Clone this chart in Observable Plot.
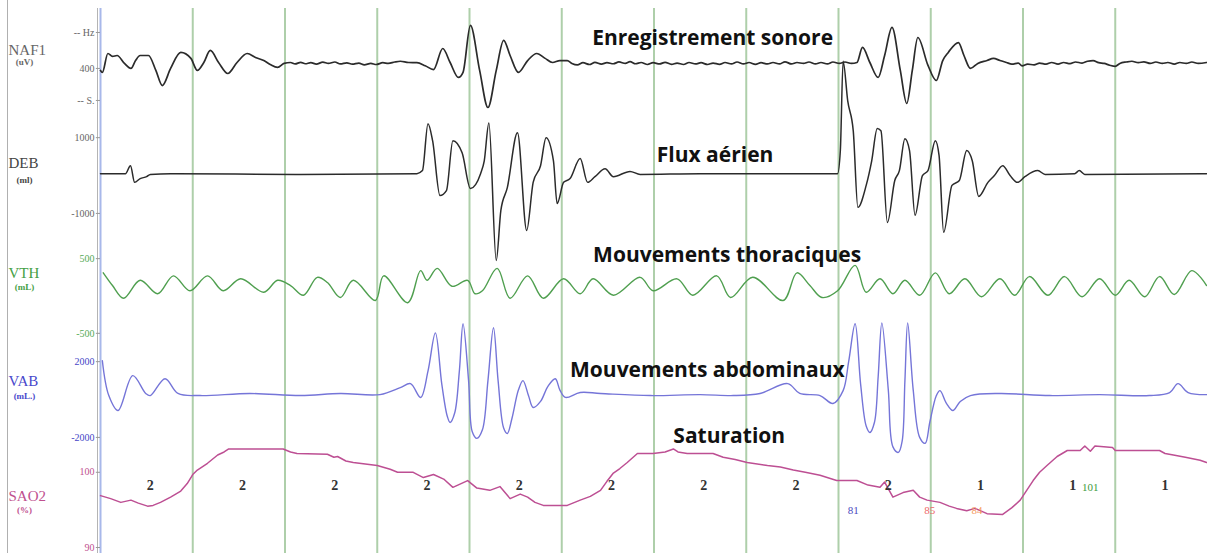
<!DOCTYPE html>
<html><head><meta charset="utf-8">
<script src="https://cdn.jsdelivr.net/npm/d3@7"></script>
<script src="https://cdn.jsdelivr.net/npm/@observablehq/plot@0.6"></script>
<style>
html,body{margin:0;padding:0;background:#fff;}
#wrap{position:relative;width:1207px;height:553px;overflow:hidden;}
#frameL{position:absolute;left:7px;top:0;width:1px;height:553px;background:#b0b0b0;}
svg{overflow:visible;}
</style></head><body><div id="wrap"><div id="frameL"></div></div>
<script>
// ---- data: [time (s), value] ----
const naf1 = [[0,389],[0.2,378],[0.8,483],[1.3,467],[1.8,472],[2.6,428],[3.3,400],[3.8,444],[4.3,472],[5.2,472],[6.0,389],[6.7,305],[7.6,400],[8.7,489],[9.8,456],[10.5,389],[11.2,433],[11.9,500],[12.8,433],[13.8,372],[14.8,433],[15.9,483],[16.8,461],[17.7,444],[18.4,422],[19.2,406],[19.9,428],[20.6,433],
[21.1,425],[21.7,434],[22.2,426],[22.8,432],[23.4,424],[24.1,435],[24.7,428],[25.4,436],[26.0,425],[26.7,431],[27.3,424],[28.0,430],[28.6,420],[29.3,428],[29.9,422],[30.6,432],[31.2,428],[31.9,436],[32.5,440],[33.4,433],[34.3,432],[35.2,415],[36.1,394],[37.1,511],[37.9,433],[38.8,350],[39.3,378],[40.1,639],[41.1,389],[42.0,183],[42.9,389],[43.7,556],[44.4,472],[45.3,378],[46.3,444],[47.3,483],[48.2,456],[49.0,433],[49.8,444],[50.6,444],[51.1,428],[51.7,420],
[52.3,432],[53.0,422],[53.6,434],[54.3,424],[54.9,432],[55.6,426],[56.2,436],[56.9,428],[57.4,438],[58.0,426],[58.6,433],[59.3,422],[59.9,432],[60.6,425],[61.2,434],[61.9,423],[62.5,430],[63.2,422],[63.8,433],[64.5,425],[65.1,432],[65.8,422],[66.4,430],[67.1,423],[67.7,433],[68.4,425],[69.0,436],[69.7,425],[70.3,433],[71.0,423],[71.6,432],[72.3,425],[72.9,433],[73.6,425],[74.2,437],[74.9,425],[75.5,433],[76.2,428],[76.8,436],[77.5,425],[78.1,433],[78.8,425],[79.4,436],[80.1,428],[80.7,436],[81.4,428],[82.0,433],
[82.6,517],[83.4,433],[84.3,350],[85.0,472],[85.8,628],[86.7,389],[87.4,205],[88.0,389],[88.6,572],[89.7,417],[90.6,333],[91.3,444],[91.9,489],[93.0,544],[93.6,472],[94.3,400],[95.1,428],[96.1,444],[96.8,456],[97.5,444],
[98.2,433],[98.8,424],[99.5,430],[99.9,414],[100.5,424],[101.2,420],[101.8,430],[102.5,424],[103.1,433],[103.8,424],[104.4,433],[105.1,427],[105.7,436],[106.4,430],[107.0,440],[107.6,444],[108.2,432],[108.8,428],[109.4,418],[110.0,412],[110.5,428],[111.2,436],[111.8,440],[112.5,432],[113.1,437],[113.8,428],[114.4,436],[115.1,428],[115.7,433],[116.4,424],[117.0,433],[117.7,428],[118.3,436],[119.0,428],[119.9,433]];

const deb = [[0,50],[2.7,50],[3.25,260],[3.7,-180],[4.3,-80],[5.0,-30],[5.4,30],[7.6,50],[21.7,30],[34.3,50],[34.9,130],[35.5,1370],[36.0,920],[36.8,-530],[37.5,-400],[38.2,920],[39.2,600],[40.1,-340],[41.2,50],[41.6,390],[42.1,1390],[42.9,-2240],[43.4,-920],[44.1,-320],[45.2,1130],[46.2,-1450],[46.9,-180],[47.7,260],[48.3,1000],[49.1,390],[49.5,-740],[50.2,-180],[50.9,-80],[52.0,450],[52.8,-180],[53.6,-30],[54.7,180],[55.6,-30],[57.4,110],[58.5,30],[65.0,50],[79.9,50],[80.2,660],[80.5,3020],[81.0,1970],[81.6,1180],[82.1,-840],[83.0,-260],[83.6,390],[84.2,1240],[84.6,1180],[85.3,-1240],[86.1,-130],[86.6,130],[87.2,970],[87.7,660],[88.3,-1050],[89.1,0],[89.7,130],[90.5,920],[90.9,530],[91.4,-1500],[92.3,-260],[93.1,-130],[93.9,660],[94.5,390],[95.2,-550],[96.2,-180],[96.9,0],[97.8,260],[98.6,0],[99.4,-180],[100.2,-30],[101.6,130],[102.4,30],[105.6,50],[106.1,130],[106.7,30],[119.9,50]];

const vth = [[0.3,310],[1.3,140],[2.5,-30],[4.3,210],[6.2,30],[7.9,270],[9.7,70],[11.6,270],[13.3,70],[15.2,230],[17.7,50],[19.2,210],[20.6,140],[22.0,10],[23.5,250],[24.6,180],[26.0,-20],[27.4,210],[29.8,-60],[30.7,270],[33.3,-90],[34.7,340],[35.4,210],[36.5,370],[38.1,130],[39.8,210],[40.6,30],[41.4,70],[43.0,370],[44.4,-30],[46.3,270],[48.0,-30],[50.2,230],[52.0,30],[53.4,230],[55.6,10],[58.5,250],[59.9,70],[62.5,230],[64.2,10],[66.8,270],[68.3,-20],[70.7,250],[74.0,-60],[75.5,310],[76.9,140],[78.2,-20],[79.9,70],[81.8,410],[83.0,50],[84.5,230],[85.9,30],[87.2,210],[88.8,10],[90.5,310],[92.0,30],[93.7,230],[95.5,-10],[97.5,230],[99.1,10],[100.7,260],[102.7,10],[104.5,260],[106.4,-10],[108.3,230],[110.0,10],[111.5,210],[113.2,-10],[114.8,260],[116.4,20],[118.3,340],[119.9,140]];

const vab = [[0.2,2050],[0.9,210],[1.9,-580],[3.5,1260],[4.9,320],[5.4,210],[7.0,1100],[8.4,320],[10.8,210],[16.2,320],[21.7,210],[26.0,320],[30.3,260],[32.5,630],[33.6,840],[34.7,110],
[35.5,1500],[36.3,3520],[37.0,800],[37.6,-900],[37.9,-1210],[38.4,-700],[38.9,1500],[39.3,4000],[39.9,1000],[40.3,-1700],[40.8,-2050],[41.4,-1600],[42.0,1000],[42.6,3790],[43.1,1000],[43.7,-1500],[44.1,-1790],[44.6,-1000],[45.3,500],[45.8,1000],[46.4,200],[46.9,-420],[47.7,-100],[48.5,700],[49.3,1100],[49.8,500],[50.4,110],
[52.0,370],[54.2,320],[59.6,210],[65.0,260],[68.6,210],[71.5,320],[74.5,840],[75.8,320],[78.0,210],[79.4,-210],[80.5,470],
[81.1,2000],[81.8,4000],[82.4,800],[83.0,-1400],[83.4,-1740],[83.9,-1200],[84.3,1200],[84.7,4050],[85.4,500],[85.9,-2500],[86.5,-2790],[86.9,-2200],[87.2,1000],[87.5,4050],[88.1,500],[88.8,-2000],[89.4,-2310],[89.9,-1200],[90.6,200],[91.0,470],[91.7,-200],[92.4,-580],[93.2,-100],[94.3,210],
[97.5,320],[102.9,210],[108.3,260],[113.7,210],[115.9,370],[116.8,840],[117.9,370],[119.9,260]];

const sao2 = [[0.0,96.9],[1.1,96.5],[2.2,96.0],[3.3,96.3],[4.1,95.9],[5.1,95.5],[5.7,95.6],[6.5,96.0],[7.6,96.7],[8.7,97.5],[9.4,98.5],[10.0,99.7],[10.5,100.3],[11.6,101.2],[12.7,102.3],[13.4,102.7],[13.9,103.1],[19.8,103.1],[20.6,102.7],[21.3,102.5],[24.6,102.4],[25.3,102.0],[25.7,102.1],[26.6,101.5],[27.4,101.3],[30.0,100.9],[31.4,100.4],[32.2,100.0],[33.9,100.0],[35.0,99.3],[36.1,99.7],[37.2,99.1],[38.2,98.0],[39.8,98.9],[40.8,97.9],[42.2,97.6],[43.3,98.1],[44.4,96.5],[45.5,97.1],[46.3,96.7],[47.1,96.0],[48.0,95.6],[50.6,95.6],[52.0,96.3],[53.1,96.8],[54.2,97.6],[54.9,98.8],[55.6,99.9],[56.3,100.5],[57.1,101.3],[58.2,102.5],[59.9,102.5],[61.2,102.7],[62.1,103.1],[62.6,102.7],[63.6,102.5],[66.4,102.5],[67.5,102.0],[68.8,101.7],[70.1,101.3],[72.3,100.9],[73.7,100.7],[75.1,100.3],[76.4,100.0],[78.0,99.6],[79.8,98.9],[82.0,98.9],[83.2,98.3],[84.5,98.0],[85.0,98.7],[85.9,96.7],[87.0,97.3],[88.1,97.6],[88.8,96.7],[89.6,96.3],[91.0,96.0],[92.0,95.5],[92.8,95.2],[93.9,94.9],[94.8,95.2],[96.1,94.5],[97.8,94.4],[98.8,95.3],[99.7,96.3],[100.4,97.6],[101.1,98.9],[101.8,100.0],[102.6,100.9],[103.7,102.1],[104.8,102.9],[106.2,102.9],[106.7,103.5],[107.3,102.8],[107.8,103.5],[109.7,103.3],[110.0,102.9],[114.8,102.9],[115.4,102.5],[116.3,102.3],[117.6,102.0],[119.2,101.6],[119.9,101.3]];

// sleep stage per 10-s epoch
const stages = ["2","2","2","2","2","2","2","2","2","1","1","1"];
const epochSeconds = 10;

// desaturation event annotations
const eventTimes = [81.6, 89.9, 95.0, 107.3];
const eventLevels = [94.9, 94.9, 94.9, 98.0];
const eventLabels = ["81", "85", "84", "101"];

// channel tick labels
const tickChannels = ["NAF1","NAF1","NAF1","DEB","DEB","VTH","VTH","VAB","VAB","SAO2","SAO2"];
const tickValues   = [600, 400, 222, 1000, -1000, 500, -500, 2000, -2000, 100, 90];
const tickLabels   = ["-- Hz","400","-- S.","1000","-1000","500","-500","2000","-2000","100","90"];

const channelNames = ["NAF1","DEB","VTH","VAB","SAO2"];
const channelUnits = ["(uV)","(ml)","(mL)","(mL.)","(%)"];
const titles = ["Enregistrement sonore","Flux aérien","Mouvements thoraciques","Mouvements abdominaux","Saturation"];

// ---- layout (not data) ----
const lanes = {
  NAF1: {v0: 600, f0: 0.044, v1: 200, f1: 0.176},
  DEB:  {v0: 1000, f0: 0.237, v1: -1000, f1: 0.376},
  VTH:  {v0: 500, f0: 0.459, v1: -500, f1: 0.596},
  VAB:  {v0: 2000, f0: 0.648, v1: -2000, f1: 0.787},
  SAO2: {v0: 100, f0: 0.851, v1: 90, f1: 0.989}
};
const lanePos = (ch, v) => { const L = lanes[ch]; return L.f0 + (v - L.v0) * (L.f1 - L.f0) / (L.v1 - L.v0); };
const colors = {NAF1: "#2b2b2b", DEB: "#2b2b2b", VTH: "#4f9f4f", VAB: "#7575d8", SAO2: "#bd4f93"};
const tickColors = {NAF1: "#666", DEB: "#666", VTH: "#55aa55", VAB: "#4545c8", SAO2: "#c0508f"};
const nameColors = {NAF1: "#666", DEB: "#444", VTH: "#44a044", VAB: "#4848cc", SAO2: "#c0508f"};
const nameY = [0.077, 0.284, 0.486, 0.683, 0.894];
const unitY = [0.099, 0.314, 0.512, 0.712, 0.921];
const titleT = [53.3, 60.3, 53.4, 50.9, 62.1];
const titleY = [0.055, 0.270, 0.453, 0.664, 0.785];
const eventColors = ["#4a4ac0", "#ee6a6a", "#f59a60", "#3c9a3c"];

const rows = (arr, ch) => arr.map(([t, v]) => ({t, y: lanePos(ch, v), ch}));
const tickRows = tickValues.map((v, i) => ({ch: tickChannels[i], y: lanePos(tickChannels[i], v), label: tickLabels[i]}));
const stageRows = stages.map((s, i) => ({t: i * epochSeconds + 5.4, s}));
const gridT = stages.slice(1).map((_, i) => (i + 1) * epochSeconds);
const nameRows = channelNames.map((n, i) => ({n, u: channelUnits[i], y: nameY[i], uy: unitY[i]}));
const titleRows = titles.map((s, i) => ({s, t: titleT[i], y: titleY[i]}));
const eventRows = eventLabels.map((l, i) => ({l, t: eventTimes[i], y: lanePos("SAO2", eventLevels[i]), c: eventColors[i]}));

const serif = "'Liberation Serif', 'DejaVu Serif', serif";
const traceMark = (arr, ch, curve, w) => Plot.line(rows(arr, ch), {x: "t", y: "y", stroke: colors[ch],
  strokeWidth: w, curve, strokeLinejoin: "round", strokeLinecap: "round"});

const chart = Plot.plot({
  width: 1207, height: 553,
  marginLeft: 100, marginRight: 0, marginTop: 8, marginBottom: 0,
  x: {domain: [0, 120], axis: null},
  y: {domain: [0, 1], reverse: true, axis: null},
  style: {background: "transparent", overflow: "visible"},
  marks: [
    Plot.ruleX(gridT, {stroke: "#aecfaa", strokeWidth: 2}),
    Plot.ruleX([0], {stroke: "#b4b4b4", strokeWidth: 1, dx: -3}),
    Plot.ruleX([0], {stroke: "#a8b8ea", strokeWidth: 2}),
    Plot.ruleY(tickRows, {y: "y", x1: -0.45, x2: 0, stroke: "#999", strokeWidth: 1}),
    Plot.text(tickRows, {y: "y", x: 0, dx: -6, text: "label", textAnchor: "end",
      fill: d => tickColors[d.ch], fontFamily: serif, fontSize: 10}),
    Plot.text(nameRows, {y: "y", frameAnchor: "left", dx: -92, text: "n", textAnchor: "start",
      fill: d => nameColors[d.n], fontFamily: serif, fontSize: 15}),
    Plot.text(nameRows, {y: "uy", frameAnchor: "left", dx: -76, text: "u", textAnchor: "middle",
      fill: d => nameColors[d.n], fontFamily: serif, fontSize: 9, fontWeight: "bold"}),
    traceMark(naf1, "NAF1", "monotone-x", 1.7),
    traceMark(deb, "DEB", "monotone-x", 1.5),
    traceMark(vth, "VTH", "catmull-rom", 1.4),
    traceMark(vab, "VAB", "catmull-rom", 1.4),
    traceMark(sao2, "SAO2", "linear", 1.5),
    Plot.text(stageRows, {x: "t", y: () => lanePos("SAO2", 98.3), text: "s", fill: "#333",
      fontFamily: serif, fontSize: 14, fontWeight: "bold"}),
    Plot.text(eventRows, {x: "t", y: "y", text: "l", fill: "c", fontFamily: serif, fontSize: 11}),
    Plot.text(titleRows, {x: "t", y: "y", text: "s", textAnchor: "start", fill: "#111",
      fontFamily: "'Open Sans', sans-serif", fontWeight: 700, fontSize: 21})
  ]
});
document.getElementById("wrap").appendChild(chart);
</script>
</body></html>
